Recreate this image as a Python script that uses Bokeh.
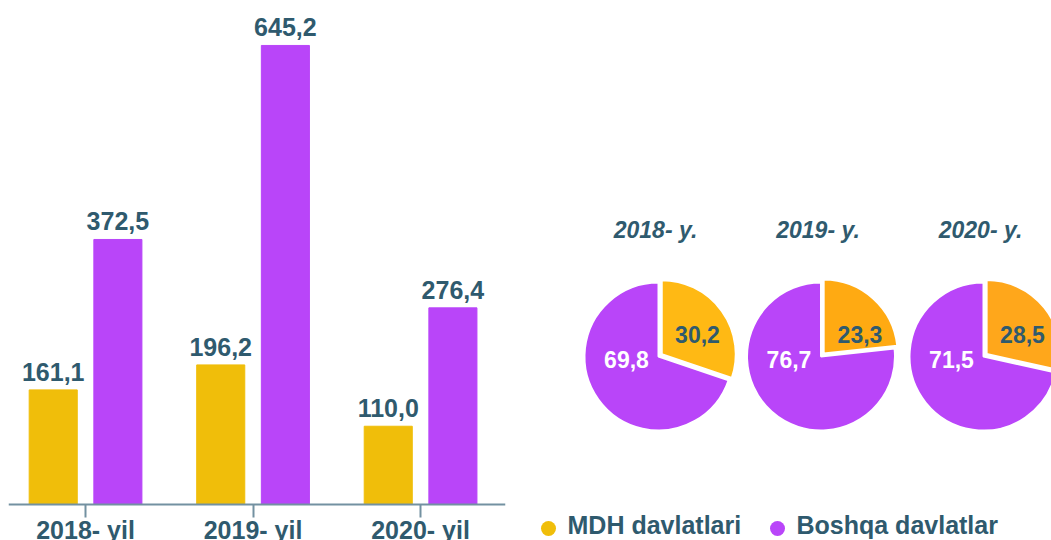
import math
from bokeh.plotting import figure
from bokeh.layouts import row
from bokeh.models import ColumnDataSource, LabelSet, Range1d, FixedTicker
from bokeh.core.properties import value
from bokeh.embed import file_html
from bokeh.resources import INLINE

# ---- data ----
years = ["2018", "2019", "2020"]
bar_labels = ["2018- yil", "2019- yil", "2020- yil"]
pie_titles = ["2018- y.", "2019- y.", "2020- y."]
mdh = [161.1, 196.2, 110.0]          # MDH davlatlari
boshqa = [372.5, 645.2, 276.4]       # Boshqa davlatlar
mdh_share = [30.2, 23.3, 28.5]
boshqa_share = [69.8, 76.7, 71.5]
series_names = ["MDH davlatlari", "Boshqa davlatlar"]

# ---- style ----
YELLOW = "#F0BE0A"
PURPLE = "#B945F9"
PIE_ORANGE = ["#FFB914", "#FFAA12", "#FFA71B"]
TXT = "#2F5A6E"
AXIS = "#7391A1"
FONT = value("Liberation Sans")

def fmt(v):
    return f"{v:.1f}".replace(".", ",")

idx = list(range(len(years)))
off = 0.193
bw = 0.287

# ---------------- bar chart ----------------
p1 = figure(width=530, height=540, output_backend="svg", toolbar_location=None,
            x_range=Range1d(-0.46, 2.507), y_range=Range1d(-50.6, 708.4),
            x_axis_location="below", y_axis_location=None,
            min_border_left=8, min_border_right=25, min_border_top=0, min_border_bottom=0)
p1.grid.visible = False
p1.outline_line_color = None

src = ColumnDataSource(dict(
    x_m=[i - off for i in idx], x_b=[i + off for i in idx],
    mdh=mdh, boshqa=boshqa,
    mdh_t=[fmt(v) for v in mdh], boshqa_t=[fmt(v) for v in boshqa],
))

p1.vbar(x="x_m", top="mdh", width=bw, source=src, fill_color=YELLOW, line_color=YELLOW)
p1.vbar(x="x_b", top="boshqa", width=bw, source=src, fill_color=PURPLE, line_color=PURPLE)

common = dict(text_font=FONT, text_font_style="bold", text_color=TXT,
              text_font_size="25px", text_align="center", text_baseline="middle")
p1.add_layout(LabelSet(x="x_m", y="mdh", text="mdh_t", source=src, y_offset=18, **common))
p1.add_layout(LabelSet(x="x_b", y="boshqa", text="boshqa_t", source=src, y_offset=18, **common))

ax = p1.xaxis[0]
ax.fixed_location = 0
ax.ticker = FixedTicker(ticks=idx)
ax.major_label_overrides = {i: lab for i, lab in zip(idx, bar_labels)}
ax.major_label_text_font = "Liberation Sans"
ax.major_label_text_font_style = "bold"
ax.major_label_text_font_size = "25px"
ax.major_label_text_color = TXT
ax.major_label_standoff = -2
ax.axis_line_color = AXIS
ax.axis_line_width = 2
ax.major_tick_line_color = AXIS
ax.major_tick_line_width = 2
ax.major_tick_out = 13
ax.major_tick_in = 0
ax.minor_tick_line_color = None

# ---------------- pies ----------------
W2 = 521
H2 = 540
p2 = figure(width=W2, height=H2, output_backend="svg", toolbar_location=None,
            x_range=Range1d(0, W2), y_range=Range1d(0, H2),
            x_axis_location=None, y_axis_location=None, min_border=0)
p2.grid.visible = False
p2.outline_line_color = None

R = 74
cy = 184
x0 = 128
step = 162.5
cx = [x0 + i * step for i in idx]
theta = [2 * math.pi * s / 100 for s in mdh_share]
mid = [math.pi / 2 - t / 2 for t in theta]
explode = 4

p2.wedge(x=[c + explode * math.cos(m) for c, m in zip(cx, mid)],
         y=[cy + explode * math.sin(m) for m in mid],
         radius=R,
         start_angle=[math.pi / 2 - t for t in theta],
         end_angle=[math.pi / 2] * 3,
         fill_color=PIE_ORANGE, line_color="white", line_width=2)
p2.wedge(x=cx, y=[cy] * 3, radius=R,
         start_angle=[math.pi / 2] * 3,
         end_angle=[math.pi / 2 - t + 2 * math.pi for t in theta],
         fill_color=PURPLE, line_color="white", line_width=2)

p2.text(x=[c - 3 for c in cx], y=[311] * 3, text=pie_titles, text_font=FONT,
        text_font_style="bold italic", text_color=TXT, text_font_size="23px",
        text_align="center", text_baseline="middle")
p2.text(x=[c + 39 for c in cx], y=[cy + 22] * 3, text=[fmt(v) for v in mdh_share],
        text_font=FONT, text_font_style="bold", text_color=TXT, text_font_size="23px",
        text_align="center", text_baseline="middle")
p2.text(x=[c - 32 for c in cx], y=[cy - 3] * 3, text=[fmt(v) for v in boshqa_share],
        text_font=FONT, text_font_style="bold", text_color="white", text_font_size="23px",
        text_align="center", text_baseline="middle")

# legend
lx = [18, 247]
p2.scatter(x=lx, y=[12, 12], size=15, fill_color=[YELLOW, PURPLE], line_color=None)
p2.text(x=[x + 19 for x in lx], y=[16, 16], text=series_names, text_font=FONT,
        text_font_style="bold", text_color=TXT, text_font_size="25px",
        text_align="left", text_baseline="middle")

layout = row(p1, p2)
open("out.html", "w").write(file_html(layout, INLINE))
